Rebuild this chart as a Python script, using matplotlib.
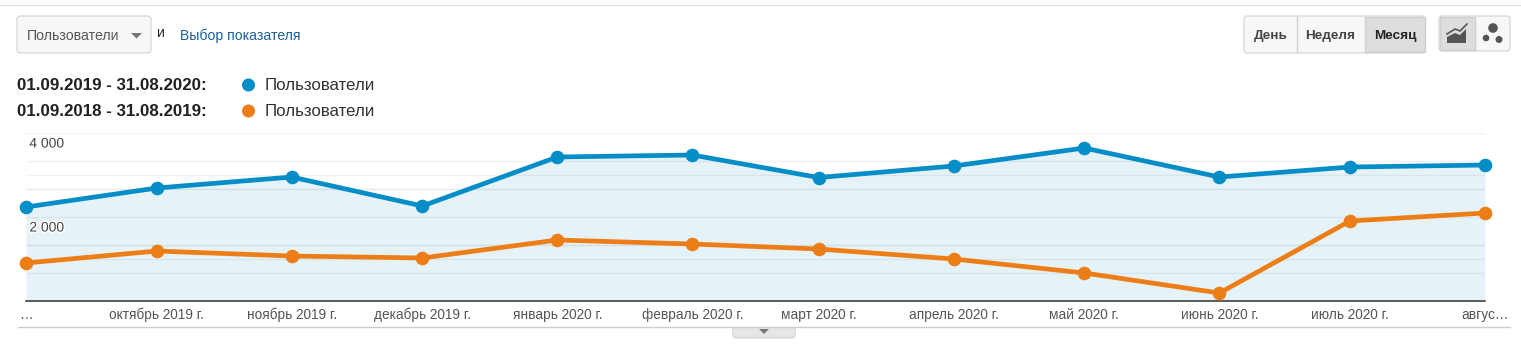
import matplotlib
matplotlib.use("Agg")
import matplotlib.pyplot as plt
import matplotlib.patheffects as pe
from matplotlib.patches import FancyBboxPatch, Rectangle, Polygon, Circle
import pandas as pd

plt.rcParams['font.family'] = ['Liberation Sans', 'DejaVu Sans']

# data
months = ['2019-09-01', '2019-10-01', '2019-11-01', '2019-12-01', '2020-01-01', '2020-02-01',
          '2020-03-01', '2020-04-01', '2020-05-01', '2020-06-01', '2020-07-01', '2020-08-01']
users_current = [2238, 2690, 2952, 2262, 3429, 3476, 2940, 3214, 3643, 2952, 3190, 3238]
users_previous = [905, 1190, 1071, 1024, 1452, 1357, 1238, 1000, 667, 190, 1905, 2095]
month_labels = ['…', 'октябрь 2019 г.', 'ноябрь 2019 г.', 'декабрь 2019 г.', 'январь 2020 г.',
                'февраль 2020 г.', 'март 2020 г.', 'апрель 2020 г.', 'май 2020 г.',
                'июнь 2020 г.', 'июль 2020 г.', 'авгус…']
y_labelled = [4000, 2000]
y_labels = ['4 000', '2 000']
y_grid_faint = [4000, 3333, 3000, 2000, 1000, 667]
y_grid_strong = [2667, 1333]

BLUE = '#058dc7'
ORANGE = '#ed7e17'
W, H = 1521, 353
dates = pd.to_datetime(months)

fig = plt.figure(figsize=(W / 100, H / 100), dpi=100, facecolor='white')

# chart area
ax = fig.add_axes([26 / W, (H - 301) / H, 1459 / W, 168 / H])
ax.set_xlim(dates[0], dates[-1])
ax.set_ylim(0, 4000)
for s in ['top', 'left', 'right']:
    ax.spines[s].set_visible(False)
ax.spines['bottom'].set_color('#333333')
ax.spines['bottom'].set_linewidth(1.1)
ax.set_yticks(y_grid_faint)
ax.set_yticks(y_grid_strong, minor=True)
ax.set_yticklabels([])
ax.tick_params(axis='y', which='both', length=0)
ax.grid(True, axis='y', which='major', color='#f1f1f1', lw=1)
ax.grid(True, axis='y', which='minor', color='#e9e9e9', lw=1)
ax.set_axisbelow(True)

ax.fill_between(dates, users_current, 0, color=BLUE, alpha=0.1, lw=0)
ax.plot(dates, users_current, color=BLUE, lw=3.4, marker='o', ms=8.8, clip_on=False, zorder=4)
ax.plot(dates, users_previous, color=ORANGE, lw=3.4, marker='o', ms=8.8, clip_on=False, zorder=5)

ax.set_xticks(dates)
ax.set_xticklabels(month_labels, fontsize=9.8, color='#555555')
ax.tick_params(axis='x', length=0, pad=5)

for val, lab in zip(y_labelled, y_labels):
    ax.annotate(lab, xy=(dates[0], val), xytext=(2.4, -7.6), textcoords='offset points',
                fontsize=10, color='#444444', va='center', ha='left', zorder=6,
                path_effects=[pe.withStroke(linewidth=2, foreground='white')])

# page furniture, in pixel coordinates
ui = fig.add_axes([0, 0, 1, 1], zorder=-1)
ui.set_xlim(0, W)
ui.set_ylim(H, 0)
ui.axis('off')
top = fig.add_axes([0, 0, 1, 1], zorder=10)
top.set_xlim(0, W)
top.set_ylim(H, 0)
top.axis('off')
top.patch.set_alpha(0)


def box(a, x0, y0, x1, y1, fc='#f7f7f7', ec='#d2d2d2'):
    a.add_patch(FancyBboxPatch((x0 + 3, y0 + 3), x1 - x0 - 6, y1 - y0 - 6,
                               boxstyle='round,pad=3', fc=fc, ec=ec, lw=0.8))


ui.plot([0, W], [4.5, 4.5], color='#e2e2e2', lw=1)
box(ui, 733, 322, 795, 338, fc='#e6e6e6')
ui.add_patch(Rectangle((732, 318), 64, 9, fc='white', ec='none', zorder=3))
ui.plot([18, 1510], [327, 327], color='#cccccc', lw=1, zorder=4)
ui.add_patch(Polygon([[759, 329], [769, 329], [764, 334]], fc='#777777', ec='none', zorder=4))

# metric picker
box(ui, 17, 16, 151, 53)
top.text(27, 36, 'Пользователи', fontsize=10.2, color='#555555', va='center')
top.add_patch(Polygon([[131, 33], [142, 33], [136.5, 38.5]], fc='#777777', ec='none'))
top.text(157, 33, 'и', fontsize=10.2, color='#222222', va='center')
top.text(180, 36, 'Выбор показателя', fontsize=10.1, color='#1a5f9c', va='center')

# date ranges and legend
top.text(17, 86, '01.09.2019 - 31.08.2020:', fontsize=12.2, fontweight='bold', color='#222222', va='center')
top.text(17, 112, '01.09.2018 - 31.08.2019:', fontsize=12.2, fontweight='bold', color='#222222', va='center')
top.add_patch(Circle((248.5, 85), 6.5, fc=BLUE, ec='none'))
top.add_patch(Circle((248.5, 111), 6.5, fc=ORANGE, ec='none'))
top.text(265, 86, 'Пользователи', fontsize=12.2, color='#333333', va='center')
top.text(265, 112, 'Пользователи', fontsize=12.2, color='#333333', va='center')

# period buttons
box(ui, 1244, 16, 1425, 53)
ui.add_patch(Rectangle((1364.5, 17), 60, 35, fc='#dddddd', ec='#cfcfcf', lw=1))
ui.plot([1296.5, 1296.5], [17, 52], color='#d2d2d2', lw=1)
top.text(1270.5, 35.5, 'День', fontsize=9.7, fontweight='bold', color='#444444', ha='center', va='center')
top.text(1330.5, 35.5, 'Неделя', fontsize=9.7, fontweight='bold', color='#444444', ha='center', va='center')
top.text(1395, 35.5, 'Месяц', fontsize=9.7, fontweight='bold', color='#222222', ha='center', va='center')

# chart type buttons
box(ui, 1439, 16, 1510, 51)
ui.add_patch(Rectangle((1440, 17), 35, 33, fc='#dddddd', ec='#cfcfcf', lw=1))
top.add_patch(Polygon([[1447, 43], [1447, 37], [1455, 33], [1460, 35], [1466, 29], [1466, 43]],
                      fc='#555555', ec='none'))
top.plot([1447, 1455, 1460, 1467], [34, 29, 31, 24], color='#555555', lw=1.2)
top.add_patch(Circle((1493, 28), 4.8, fc='#555555', ec='none'))
top.add_patch(Circle((1486, 38), 3.3, fc='#555555', ec='none'))
top.add_patch(Circle((1499, 39.5), 3.5, fc='#555555', ec='none'))

fig.savefig('out.png', dpi=100)
